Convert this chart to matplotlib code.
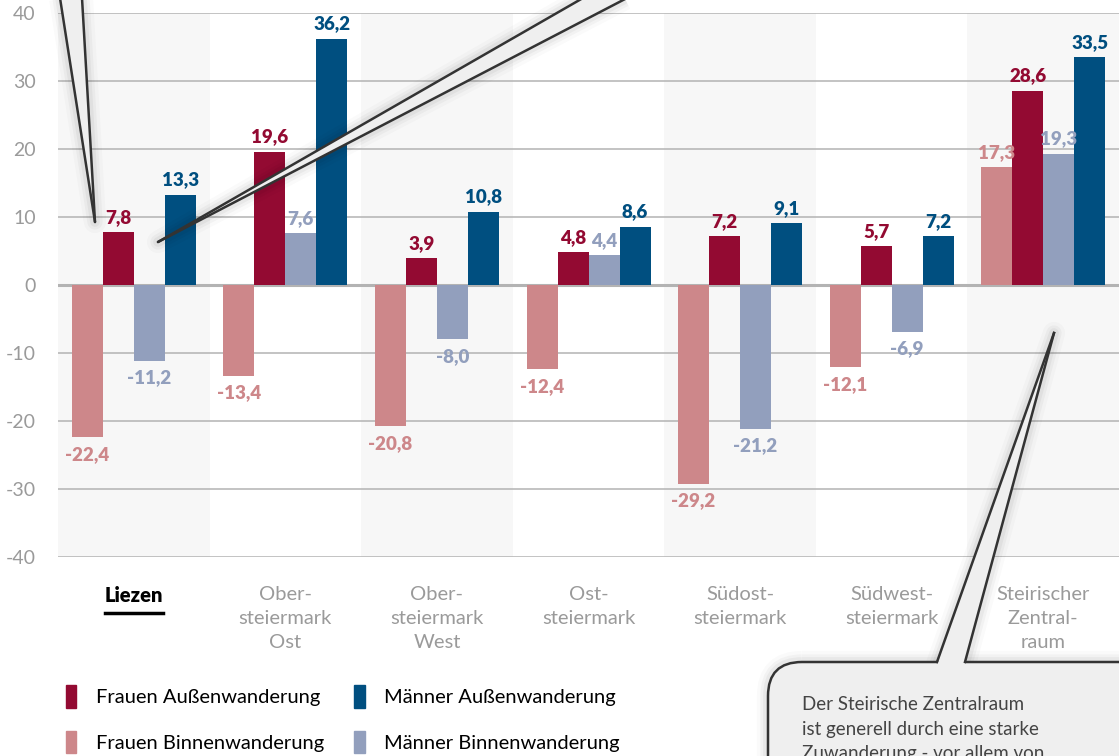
import matplotlib
matplotlib.use("Agg")
import matplotlib.pyplot as plt
import numpy as np
from matplotlib.patches import Polygon, FancyBboxPatch, Patch

plt.rcParams['font.family'] = ['Lato', 'DejaVu Sans']
plt.rcParams['axes.unicode_minus'] = False

# data
regions = ['Liezen', 'Ober-\nsteiermark\nOst', 'Ober-\nsteiermark\nWest', 'Ost-\nsteiermark',
           'Südost-\nsteiermark', 'Südwest-\nsteiermark', 'Steirischer\nZentral-\nraum']
frauen_binnen = [-22.4, -13.4, -20.8, -12.4, -29.2, -12.1, 17.3]
frauen_aussen = [7.8, 19.6, 3.9, 4.8, 7.2, 5.7, 28.6]
maenner_binnen = [-11.2, 7.6, -8.0, 4.4, -21.2, -6.9, 19.3]
maenner_aussen = [13.3, 36.2, 10.8, 8.6, 9.1, 7.2, 33.5]
y_ticks = [-40, -30, -20, -10, 0, 10, 20, 30, 40]

c_fb = '#cd878a'
c_fa = '#930a32'
c_mb = '#929fbd'
c_ma = '#004f80'

W, H = 1119, 756
fig = plt.figure(figsize=(W / 100, H / 100), dpi=100)
ax = fig.add_axes([58 / W, 1 - 557 / H, (W - 58) / W, (557 - 13) / H])

x = np.arange(len(regions))
bw = 31 / (1061 / 7)

# shaded bands
for i in range(0, len(regions), 2):
    ax.axvspan(i - 0.5, i + 0.5, color='#f7f7f7', zorder=0, lw=0)

for t in y_ticks:
    ax.axhline(t, color='#b3b3b3', lw=2.2 if t == 0 else 1.1, zorder=1)

series = [(frauen_binnen, c_fb, 'Frauen Binnenwanderung'),
          (frauen_aussen, c_fa, 'Frauen Außenwanderung'),
          (maenner_binnen, c_mb, 'Männer Binnenwanderung'),
          (maenner_aussen, c_ma, 'Männer Außenwanderung')]

for k, (vals, col, name) in enumerate(series):
    pos = x + (k - 1.5) * bw
    ax.bar(pos, vals, width=bw, color=col, zorder=2, lw=0)
    for p, v in zip(pos, vals):
        txt = f"{v:.1f}".replace('.', ',')
        if v >= 0:
            ax.annotate(txt, (p, v), xytext=(0, 4.5), textcoords='offset points',
                        ha='center', va='bottom', color=col, fontsize=13.5, fontweight='heavy', zorder=3)
        else:
            ax.annotate(txt, (p, v), xytext=(0, -6), textcoords='offset points',
                        ha='center', va='top', color=col, fontsize=13.5, fontweight='heavy', zorder=3)

ax.set_xlim(-0.5, len(regions) - 0.5)
ax.set_ylim(-40, 40)
ax.set_yticks(y_ticks)
ax.set_xticks(x)
ax.set_xticklabels(regions, linespacing=1.5)
ax.tick_params(axis='y', length=0, pad=16, labelcolor='#9a9a9a', labelsize=14)
ax.tick_params(axis='x', length=0, pad=21, labelcolor='#9a9a9a', labelsize=14.5)
for s in ax.spines.values():
    s.set_visible(False)
ax.set_facecolor('white')

first = ax.get_xticklabels()[0]
first.set_color('black')
first.set_fontweight('heavy')

# legend
handles = [Patch(color=c_fa, label='Frauen Außenwanderung'),
           Patch(color=c_fb, label='Frauen Binnenwanderung'),
           Patch(color=c_ma, label='Männer Außenwanderung'),
           Patch(color=c_mb, label='Männer Binnenwanderung')]
fig.legend(handles=handles, ncol=2, loc='upper left', bbox_to_anchor=(66 / W, 1 - 685 / H),
           frameon=False, fontsize=14.5, borderpad=0, borderaxespad=0,
           handlelength=0.52, handleheight=1.35, handletextpad=0.95,
           columnspacing=1.5, labelspacing=1.15)

# overlay for callouts
ov = fig.add_axes([0, 0, 1, 1], zorder=10)
ov.set_xlim(0, W)
ov.set_ylim(H, 0)
ov.axis('off')
ov.patch.set_alpha(0)

fill = '#efefef'
edge = '#333333'


def shadow(pts):
    for lw, a in [(16, 0.02), (11, 0.03), (7, 0.04)]:
        ov.add_patch(Polygon(pts, closed=True, fill=False, edgecolor='black', lw=lw, alpha=a,
                             joinstyle='round'))


def tail(a, b, tip):
    shadow([a, tip, b])
    ov.add_patch(Polygon([a, b, tip], closed=True, facecolor=fill, edgecolor='none'))
    ov.plot([a[0], tip[0]], [a[1], tip[1]], color=edge, lw=1.8, solid_capstyle='round')
    ov.plot([b[0], tip[0]], [b[1], tip[1]], color=edge, lw=1.8, solid_capstyle='round')


tail((60, -2), (82, -2), (95, 222))
tail((583, -2), (627, -2), (158, 242))

# bottom right bubble
for lw, a in [(16, 0.02), (11, 0.03), (7, 0.04)]:
    ov.add_patch(FancyBboxPatch((768, 662), 420, 200, boxstyle='round,pad=0,rounding_size=34',
                                fill=False, edgecolor='black', lw=lw, alpha=a))
shadow([(937, 664), (1054, 333), (965, 664)])
ov.add_patch(FancyBboxPatch((768, 662), 420, 200, boxstyle='round,pad=0,rounding_size=34',
                            facecolor=fill, edgecolor=edge, lw=1.8))
ov.add_patch(Polygon([(937, 665), (965, 665), (1054, 333)], closed=True, facecolor=fill, edgecolor='none'))
ov.plot([937, 1054], [662, 333], color=edge, lw=1.8)
ov.plot([965, 1054], [662, 333], color=edge, lw=1.8)

note = ['Der Steirische Zentralraum', 'ist generell durch eine starke', 'Zuwanderung - vor allem von']
for i, line in enumerate(note):
    ov.text(802, 705 + 24 * i, line, ha='left', va='center', fontsize=13.5, color='#444444')

# underline for Liezen
fig.canvas.draw()
bb = first.get_window_extent()
ov.plot([bb.x0, bb.x1], [H - bb.y0 + 8, H - bb.y0 + 8], color='black', lw=2.5)

fig.savefig('out.png', dpi=100)
